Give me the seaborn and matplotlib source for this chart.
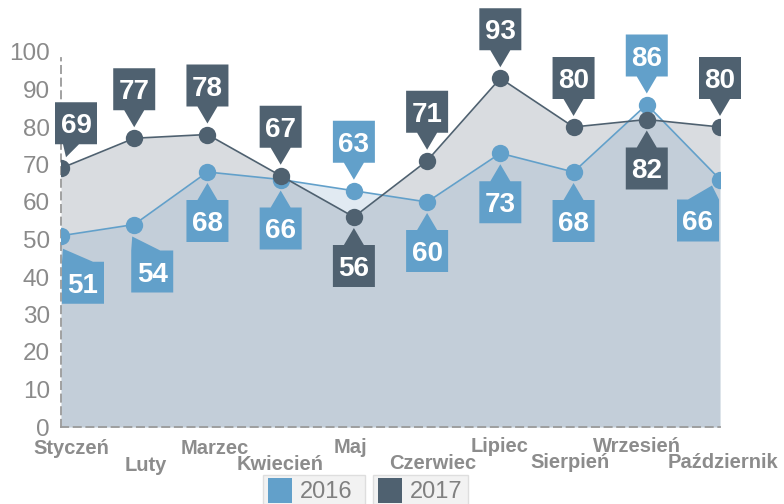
import matplotlib
matplotlib.use('Agg')
import matplotlib.pyplot as plt
import matplotlib.transforms as mtransforms
from matplotlib.patches import Polygon, Rectangle
import seaborn as sns
import pandas as pd

# ---- data ----
months = ['Styczeń', 'Luty', 'Marzec', 'Kwiecień', 'Maj', 'Czerwiec',
          'Lipiec', 'Sierpień', 'Wrzesień', 'Październik']
values_2016 = [51, 54, 68, 66, 63, 60, 73, 68, 86, 66]
values_2017 = [69, 77, 78, 67, 56, 71, 93, 80, 82, 80]
years = ['2016', '2017']
yticks = list(range(0, 101, 10))

# ---- style ----
C16 = '#62a0ca'
C17 = '#4f6170'
F16 = '#6b97be'
W, H = 784, 504

sns.set_theme(style='white')
plt.rcParams['font.family'] = ['Liberation Sans', 'DejaVu Sans']

fig = plt.figure(figsize=(W / 100, H / 100), dpi=100)
ax = fig.add_axes([61 / W, 77 / H, 659 / W, 375 / H])
ax.patch.set_alpha(0)

df = pd.DataFrame({
    'idx': list(range(len(months))) * 2,
    'value': values_2016 + values_2017,
    'year': [years[0]] * len(months) + [years[1]] * len(months),
})

xs = list(range(len(months)))
ax.fill_between(xs, values_2017, 0, color=C17, alpha=0.215, lw=0, zorder=1)
ax.fill_between(xs, values_2016, 0, color=F16, alpha=0.2, lw=0, zorder=1)

sns.lineplot(data=df, x='idx', y='value', hue='year',
             palette={years[0]: C16, years[1]: C17},
             marker='o', markersize=12.5, markeredgewidth=0, linewidth=1.2,
             legend=False, ax=ax, zorder=3)

ax.set_xlim(0, len(months) - 1)
ax.set_ylim(0, 100)
ax.set_yticks(yticks)
ax.set_yticklabels([str(v) for v in yticks], fontsize=17.5, color='#8a8a8a')
ax.tick_params(axis='y', length=0, pad=8)
ax.set_xticks(xs)
ax.set_xticklabels([])
ax.tick_params(axis='x', length=0)
ax.set_xlabel('')
ax.set_ylabel('')
for s in ['top', 'right']:
    ax.spines[s].set_visible(False)
for s in ['left', 'bottom']:
    ax.spines[s].set_linestyle((0, (4, 3)))
    ax.spines[s].set_color('#9a9a9a')
    ax.spines[s].set_linewidth(1.3)
ax.spines['left'].set_bounds(0, 98.5)

# ---- staggered month labels ----
xlab_dx = [10, 12, 7, -1, -3, 6, -1, -4, -10, 3]
xlab_base = [27, 44, 27, 43, 26, 42, 25, 41, 25, 41]
for i, m in enumerate(months):
    ax.annotate(m, xy=(i, 0), xycoords='data',
                xytext=(xlab_dx[i], -xlab_base[i]), textcoords='offset pixels',
                ha='center', va='baseline', fontsize=14.5, fontweight='bold',
                color='#8c8c8c', annotation_clip=False)


# ---- callouts ----
def callout(i, v, color, side, cx=0, gap=28, base=(-10, 10), tip=(0, 11)):
    s = 1 if side == 'up' else -1
    trans = mtransforms.Affine2D() + mtransforms.ScaledTranslation(i, v, ax.transData)
    bw = 21
    bh = 42
    verts = [
        (cx - bw, s * gap), (base[0], s * gap), (tip[0], s * tip[1]),
        (base[1], s * gap), (cx + bw, s * gap),
        (cx + bw, s * (gap + bh)), (cx - bw, s * (gap + bh)),
    ]
    poly = Polygon(verts, closed=True, facecolor=color, edgecolor='none',
                   transform=trans, clip_on=False, zorder=5)
    ax.add_patch(poly)
    ax.annotate(str(v), xy=(i, v), xycoords='data',
                xytext=(cx, s * (gap + bh / 2) - 10), textcoords='offset pixels',
                ha='center', va='baseline', fontsize=20, fontweight='bold',
                color='white', zorder=6, annotation_clip=False)


side_2016 = ['down', 'down', 'down', 'down', 'up', 'down', 'down', 'down', 'up', 'down']
side_2017 = ['up', 'up', 'up', 'up', 'down', 'up', 'up', 'up', 'down', 'up']
special_2016 = {
    0: dict(cx=22, gap=26, base=(1, 32), tip=(2, 13)),
    1: dict(cx=18, gap=26, base=(-3, 26), tip=(-2, 12)),
    9: dict(cx=-22, gap=20, base=(-32, -1), tip=(-8, 6)),
}
special_2017 = {
    0: dict(cx=15, gap=24, base=(2, 18), tip=(5, 11)),
}

for i, v in enumerate(values_2016):
    callout(i, v, C16, side_2016[i], **special_2016.get(i, {}))
for i, v in enumerate(values_2017):
    callout(i, v, C17, side_2017[i], **special_2017.get(i, {}))


# ---- legend (boxed entries at the bottom) ----
def fig_rect(x0, y0, x1, y1, **kw):
    fig.patches.append(Rectangle((x0 / W, 1 - y1 / H), (x1 - x0) / W, (y1 - y0) / H,
                                 transform=fig.transFigure, **kw))


legend_entries = [(years[0], C16, 263, 365), (years[1], C17, 373, 468)]
for label, col, x0, x1 in legend_entries:
    fig_rect(x0, 475, x1, 506, facecolor='#f2f2f2', edgecolor='#dedede', lw=1)
    fig_rect(x0 + 5, 478, x0 + 29, 503, facecolor=col, edgecolor='none')
    fig.text((x0 + 37) / W, 1 - 498 / H, label, fontsize=17, color='#808080',
             ha='left', va='baseline')

fig.savefig('out.png', dpi=100)
